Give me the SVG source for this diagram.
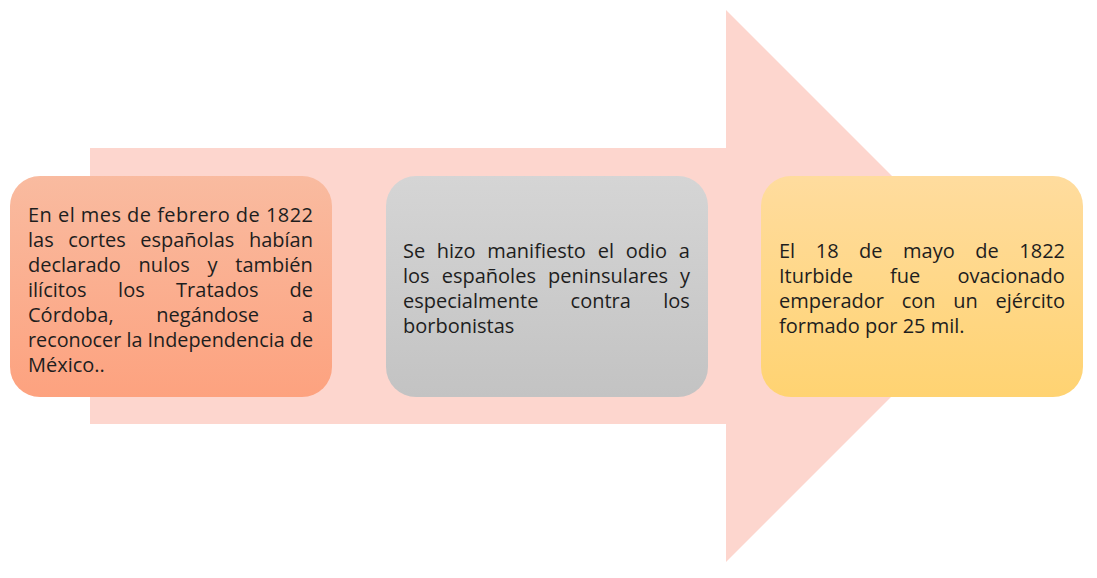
<svg xmlns="http://www.w3.org/2000/svg" width="1097" height="578" viewBox="0 0 1097 578">
<defs>
<style>
.t{font-family:"Open Sans","Noto Sans","Liberation Sans",sans-serif;font-size:20px;fill:#1e1e1e}
</style>
<linearGradient id="g1" x1="0" y1="0" x2="0" y2="1"><stop offset="0" stop-color="#F9BBA0"/><stop offset="1" stop-color="#FDA27F"/></linearGradient>
<linearGradient id="g2" x1="0" y1="0" x2="0" y2="1"><stop offset="0" stop-color="#D5D5D5"/><stop offset="1" stop-color="#C3C3C3"/></linearGradient>
<linearGradient id="g3" x1="0" y1="0" x2="0" y2="1"><stop offset="0" stop-color="#FFDC9E"/><stop offset="1" stop-color="#FFD372"/></linearGradient>
</defs>
<rect width="1097" height="578" fill="#fff"/>
<g id="arrow">
<polygon points="90,148 726,148 726,10 1002,286 726,562 726,424 90,424" fill="#FDD6CE"/>
</g>
<g id="connectors"></g>
<g id="node1">
<rect x="10" y="176" width="322" height="221" rx="30" ry="30" fill="url(#g1)"/>
<text class="t" x="28" y="222" textLength="285" lengthAdjust="spacing">En el mes de febrero de 1822</text>
<text class="t" y="247"><tspan x="28">las</tspan> <tspan x="68.2">cortes</tspan> <tspan x="140.2">españolas</tspan> <tspan x="248.9">habían</tspan></text>
<text class="t" y="272"><tspan x="28">declarado</tspan> <tspan x="138.6">nulos</tspan> <tspan x="207.6">y</tspan> <tspan x="235.3">también</tspan></text>
<text class="t" y="297"><tspan x="28">ilícitos</tspan> <tspan x="118.1">los</tspan> <tspan x="176.1">Tratados</tspan> <tspan x="289.6">de</tspan></text>
<text class="t" y="322"><tspan x="28">Córdoba,</tspan> <tspan x="156.3">negándose</tspan> <tspan x="301.9">a</tspan></text>
<text class="t" x="28" y="347" textLength="285" lengthAdjust="spacingAndGlyphs">reconocer la Independencia de</text>
<text class="t" x="28" y="372">México..</text>
</g>
<g id="node2">
<rect x="386" y="176" width="322" height="221" rx="30" ry="30" fill="url(#g2)"/>
<text class="t" y="258"><tspan x="403">Se</tspan> <tspan x="436.8">hizo</tspan> <tspan x="487.2">manifiesto</tspan> <tspan x="597.7">el</tspan> <tspan x="625.7">odio</tspan> <tspan x="678.8">a</tspan></text>
<text class="t" y="283"><tspan x="403">los</tspan> <tspan x="441.7">españoles</tspan> <tspan x="548">peninsulares</tspan> <tspan x="680">y</tspan></text>
<text class="t" y="308"><tspan x="403">especialmente</tspan> <tspan x="570.6">contra</tspan> <tspan x="663.2">los</tspan></text>
<text class="t" x="403" y="333">borbonistas</text>
</g>
<g id="node3">
<rect x="761" y="176" width="322" height="221" rx="30" ry="30" fill="url(#g3)"/>
<text class="t" y="258"><tspan x="779">El</tspan> <tspan x="815.8">18</tspan> <tspan x="859.1">de</tspan> <tspan x="903.1">mayo</tspan> <tspan x="975.3">de</tspan> <tspan x="1019.3">1822</tspan></text>
<text class="t" y="283"><tspan x="779">Iturbide</tspan> <tspan x="890.1">fue</tspan> <tspan x="957.4">ovacionado</tspan></text>
<text class="t" y="308"><tspan x="779">emperador</tspan> <tspan x="901.7">con</tspan> <tspan x="953.3">un</tspan> <tspan x="995.5">ejército</tspan></text>
<text class="t" x="779" y="333">formado por 25 mil.</text>
</g>
</svg>
